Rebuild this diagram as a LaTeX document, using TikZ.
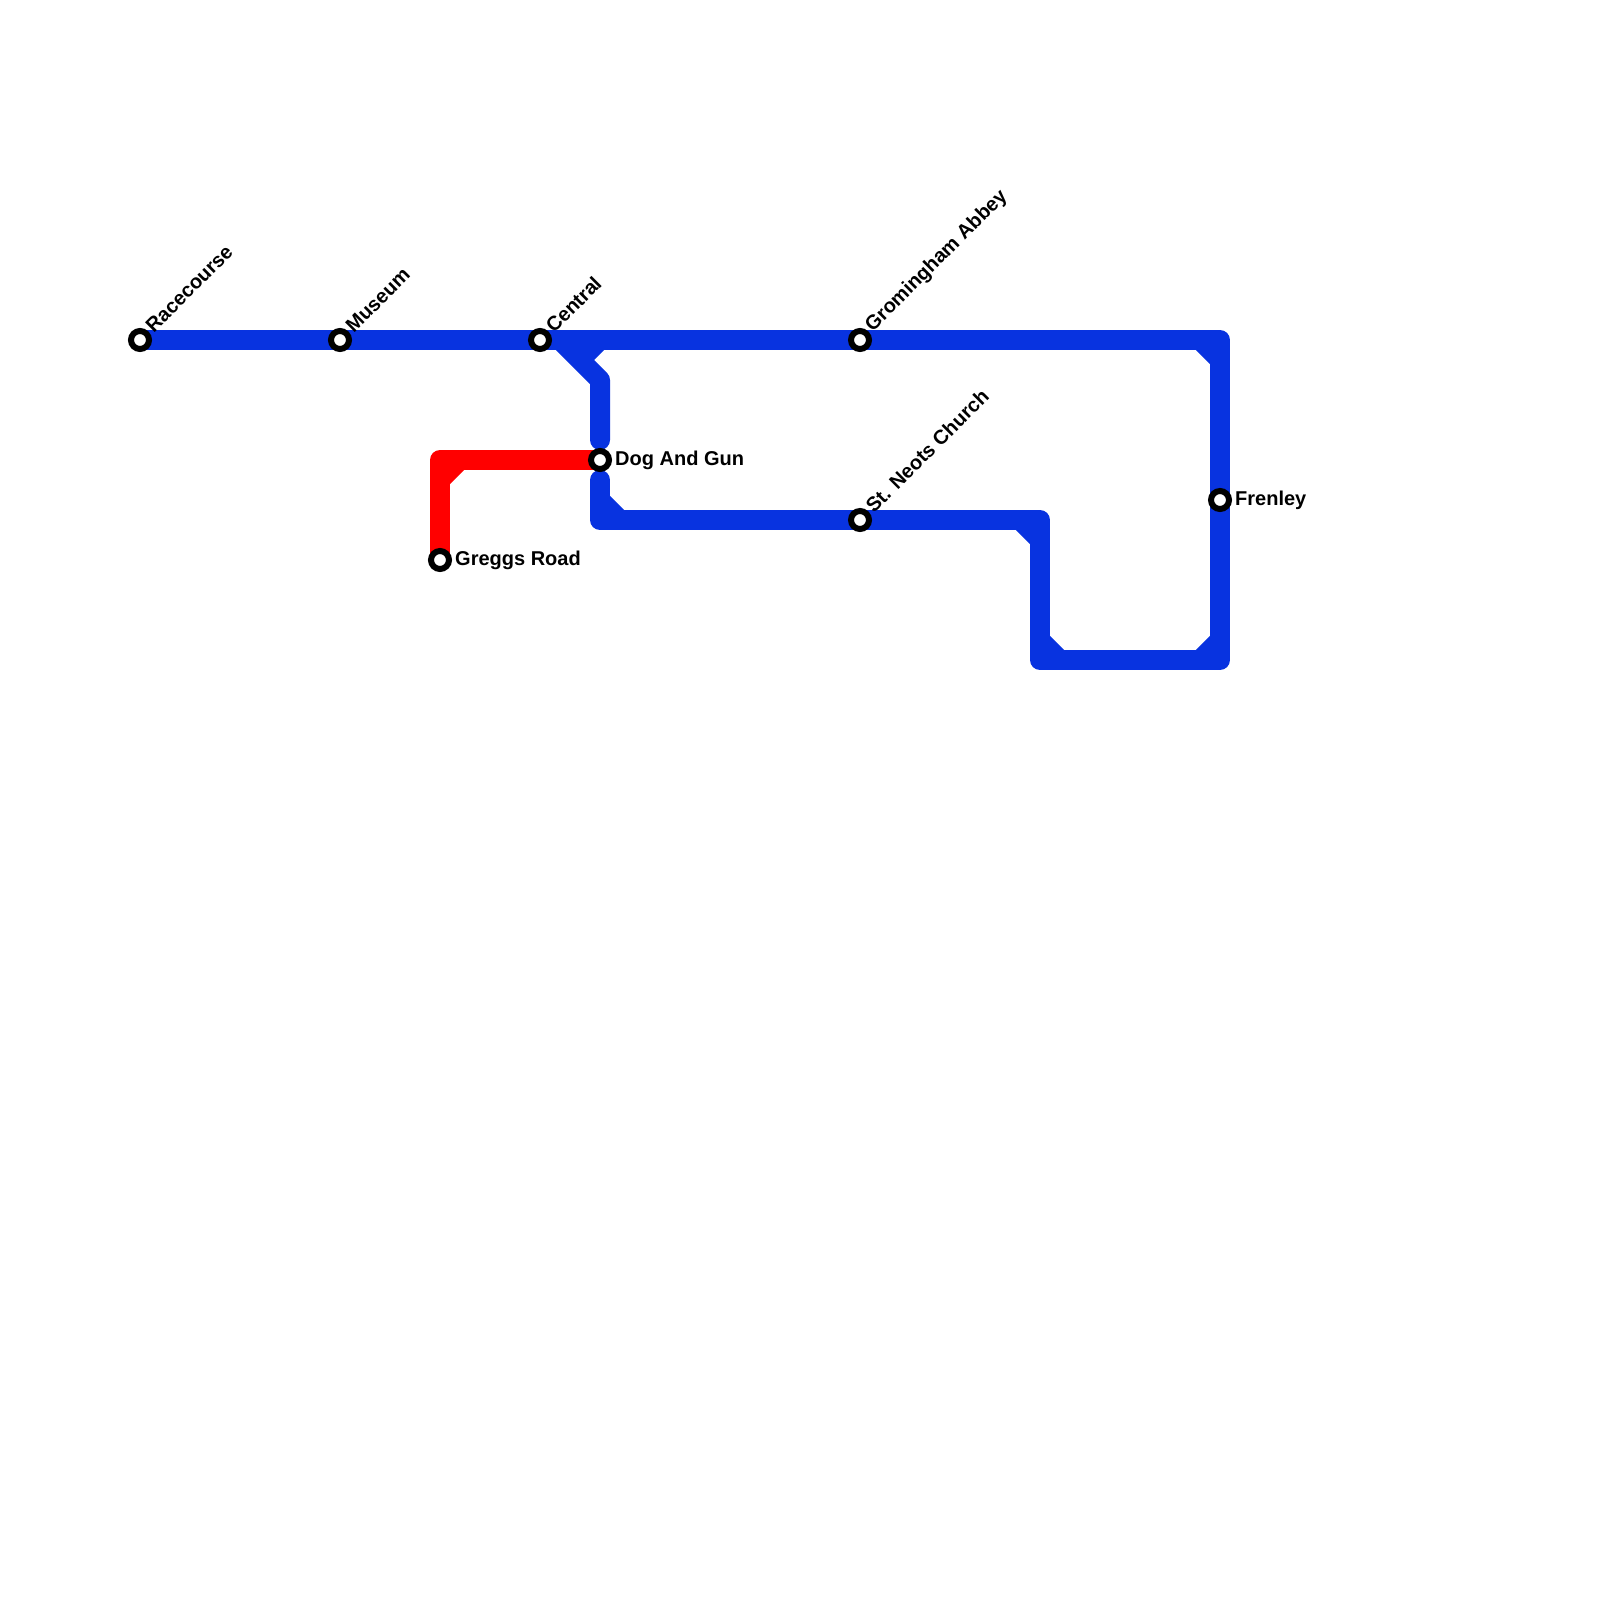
\documentclass[tikz,border=0pt]{standalone}
\usepackage{fontspec}
\setmainfont{Liberation Sans}
\usepackage{xcolor}
\usetikzlibrary{positioning,backgrounds}
\definecolor{lineblue}{HTML}{0833E0}
\definecolor{linered}{HTML}{FF0000}

\begin{document}
\begin{tikzpicture}[x=1pt, y=-1pt,
	track/.style={line width=20pt, line cap=round, line join=round},
	chamfer/.style={line width=20pt, line cap=butt},
	stop/.style={circle, draw=black, fill=white, line width=6pt, minimum size=18pt, inner sep=0pt},
	stoplabel/.style={font=\bfseries\fontsize{20}{24}\selectfont, inner sep=0pt},
	tiltlabel/.style={stoplabel, rotate=45, anchor=west}]
	\useasboundingbox (0,0) rectangle (1600,1600);
	
	\node[stop] (Racecourse) at (140,340) {};
	\node[stop] (Museum) at (340,340) {};
	\node[stop] (Central) at (540,340) {};
	\node[stop] (Gromingham) at (860,340) {};
	\node[stop] (Frenley) at (1220,500) {};
	\node[stop] (Neots) at (860,520) {};
	\node[stop] (DogGun) at (600,460) {};
	\node[stop] (Greggs) at (440,560) {};
	
	\node[tiltlabel] (RacecourseText) at ([shift={(9,-11)}]Racecourse.center) {Racecourse};
	\node[tiltlabel] (MuseumText) at ([shift={(9,-11)}]Museum.center) {Museum};
	\node[tiltlabel] (CentralText) at ([shift={(9,-11)}]Central.center) {Central};
	\node[tiltlabel] (GromText) at ([shift={(9,-11)}]Gromingham.center) {Gromingham Abbey};
	\node[tiltlabel] (NeotsText) at ([shift={(9,-11)}]Neots.center) {St. Neots Church};
	\node[stoplabel, right=3pt of DogGun.east] (DogText) {Dog And Gun};
	\node[stoplabel, right=3pt of Greggs.east] (GreggsText) {Greggs Road};
	\node[stoplabel, right=3pt of Frenley.east] (FrenleyText) {Frenley};
	
	\coordinate (TopRight) at (1220,340);
	\coordinate (BottomRight) at (1220,660);
	\coordinate (BottomLeft) at (1040,660);
	\coordinate (LoopTop) at (1040,520);
	\coordinate (LowerCorner) at (600,520);
	\coordinate (LowerEnd) at (600,480);
	\coordinate (UpperEnd) at (600,440);
	\coordinate (ForkBend) at (600,380);
	\coordinate (ForkStart) at (560,340);
	\coordinate (RedCorner) at (440,460);
	
	\coordinate (c1a) at (1200,340);
	\coordinate (c1b) at (1220,360);
	\coordinate (c2a) at (1220,640);
	\coordinate (c2b) at (1200,660);
	\coordinate (c3a) at (1060,660);
	\coordinate (c3b) at (1040,640);
	\coordinate (c4a) at (1020,520);
	\coordinate (c4b) at (1040,540);
	\coordinate (c5a) at (620,520);
	\coordinate (c5b) at (600,500);
	\coordinate (c6a) at (600,340);
	\coordinate (c6b) at (580,360);
	\coordinate (c7a) at (460,460);
	\coordinate (c7b) at (440,480);
	
	\begin{scope}[on background layer]
		\draw[track, lineblue] (Racecourse.center) -- (Museum.center) -- (Central.center) -- (Gromingham.center) -- (TopRight) -- (Frenley.center) -- (BottomRight) -- (BottomLeft) -- (LoopTop) -- (Neots.center) -- (LowerCorner) -- (LowerEnd);
		\draw[track, lineblue] (ForkStart) -- (ForkBend) -- (UpperEnd);
		\draw[chamfer, lineblue] (c1a) -- (c1b);
		\draw[chamfer, lineblue] (c2a) -- (c2b);
		\draw[chamfer, lineblue] (c3a) -- (c3b);
		\draw[chamfer, lineblue] (c4a) -- (c4b);
		\draw[chamfer, lineblue] (c5a) -- (c5b);
		\draw[chamfer, lineblue] (c6a) -- (c6b);
		\draw[track, linered] (DogGun.center) -- (RedCorner) -- (Greggs.center);
		\draw[chamfer, linered] (c7a) -- (c7b);
	\end{scope}
\end{tikzpicture}
\end{document}
